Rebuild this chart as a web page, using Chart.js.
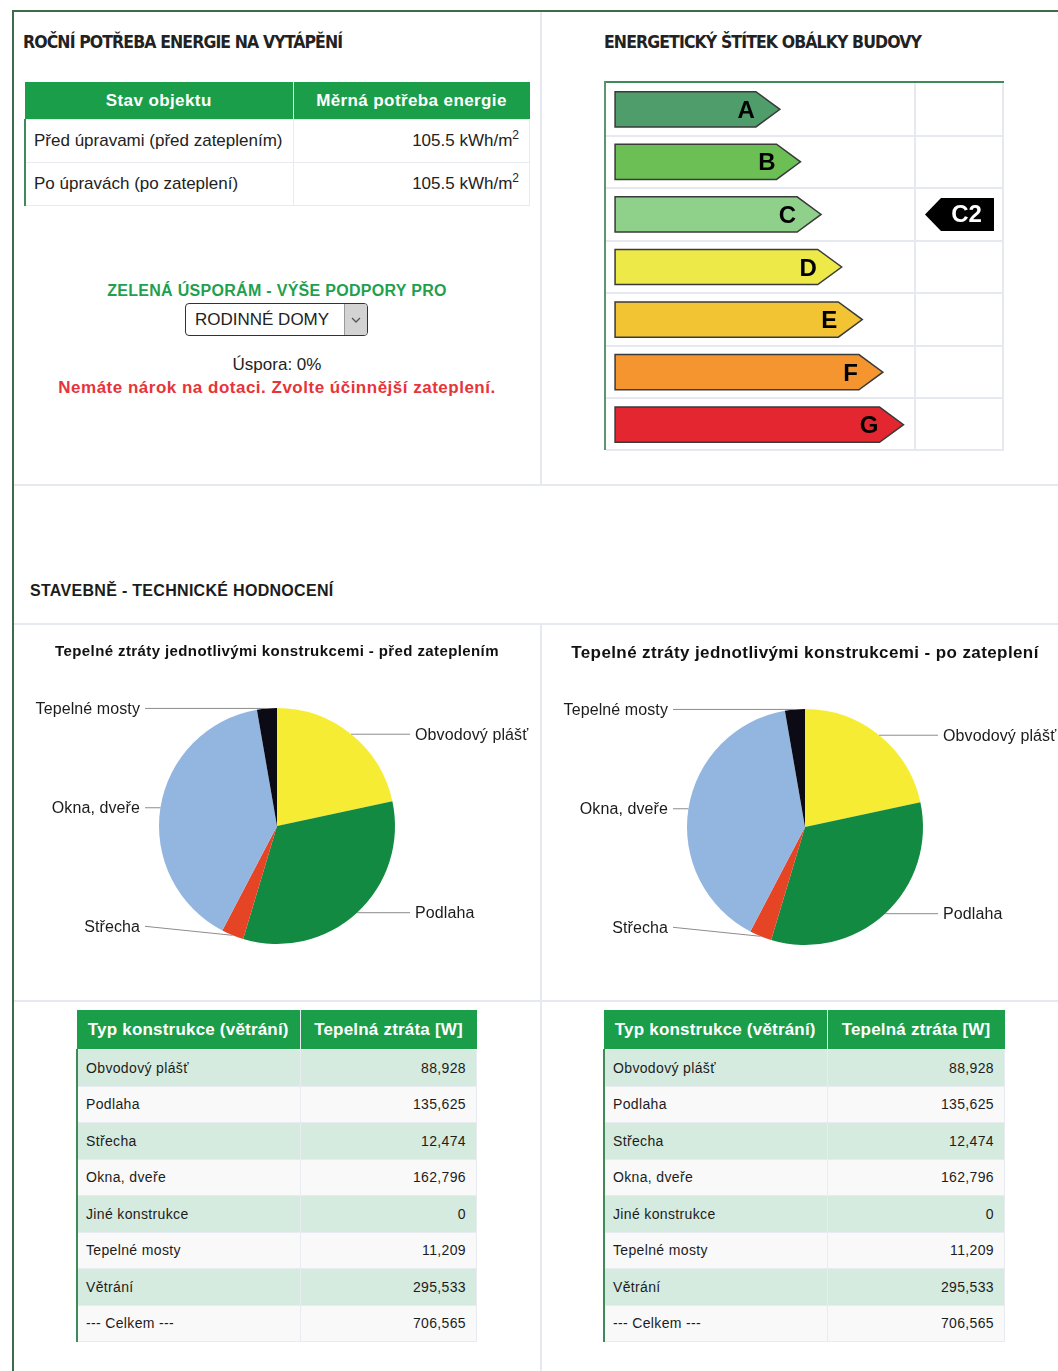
<!DOCTYPE html>
<html lang="cs">
<head>
<meta charset="utf-8">
<title>Energetické hodnocení budovy</title>
<script src="https://cdn.jsdelivr.net/npm/chart.js@4.4.1/dist/chart.umd.min.js"></script>
<style>
  html, body { margin: 0; padding: 0; background: #fff; }
  body { font-family: "Liberation Sans", Arial, sans-serif; color: #222; }
  #page { position: relative; width: 1058px; height: 1371px; overflow: hidden; }
  .abs { position: absolute; }
  .frame { background: #3c6c4a; }
  .sep { background: #e6eaf0; }
  .cond { font-family: "Liberation Sans Narrow", "DejaVu Sans Condensed", sans-serif; font-weight: bold;
          font-size: 17.5px; line-height: 1; letter-spacing: -0.9px; color: #222; white-space: nowrap; }
  .txt { line-height: 1; white-space: nowrap; }
  table.grid { border-collapse: collapse; table-layout: fixed; }
  table.grid th { background: #1a9e4a; color: #fff; font-weight: bold; font-size: 17px; text-align: center;
                  padding: 0; border-right: 1px solid #e6eaf0; }
  table.grid th:last-child { border-right: none; }
  table.grid td { border: 1px solid #e8ecf1; padding: 0 10px 0 8px; vertical-align: middle; white-space: nowrap; }
  table.grid td:first-child { border-left: 2px solid #3f8a58; }
  table.grid td.num { text-align: right; }
  #demand th { height: 37px; letter-spacing: 0.4px; }
  #demand td { height: 42px; font-size: 17px; color: #222; background: #fff; }
  #demand sup { font-size: 12px; line-height: 0; }
  table.loss th { height: 39px; letter-spacing: 0.2px; }
  table.loss td { height: 35.5px; font-size: 14px; letter-spacing: 0.35px; color: #1c1c1c; }
  table.loss tr:nth-child(odd) td { background: #d6ebdf; }
  table.loss tr:nth-child(even) td { background: #f9f9f9; }
  .select { left: 185px; top: 303px; width: 181px; height: 31px; border: 1.5px solid #333; border-radius: 4px;
            background: #fff; overflow: hidden; }
  .select .val { position: absolute; left: 9px; top: 7px; font-size: 17px; line-height: 1; color: #222; }
  .select .btn { position: absolute; right: 0; top: 0; width: 22px; height: 31px; background: #d3d3d3;
                 border-left: 1px solid #9a9a9a; }
</style>
</head>
<body>
<div id="page">
  <!-- outer frame and section separators -->
  <div class="abs frame" style="left:12px;top:10px;width:2px;height:1361px"></div>
  <div class="abs frame" style="left:12px;top:10px;width:1046px;height:2px"></div>
  <div class="abs sep" style="left:540px;top:12px;width:2px;height:472px"></div>
  <div class="abs sep" style="left:14px;top:484px;width:1044px;height:2px"></div>
  <div class="abs sep" style="left:14px;top:623px;width:1044px;height:2px"></div>
  <div class="abs sep" style="left:540px;top:623px;width:2px;height:748px"></div>
  <div class="abs sep" style="left:14px;top:1000px;width:1044px;height:2px"></div>

  <!-- annual heating demand -->
  <div class="abs cond" style="left:23px;top:34px">ROČNÍ POTŘEBA ENERGIE NA VYTÁPĚNÍ</div>
  <table id="demand" class="abs grid" style="left:24px;top:82px;width:506px">
    <colgroup><col style="width:268px"><col></colgroup>
    <thead><tr><th>Stav objektu</th><th>Měrná potřeba energie</th></tr></thead>
    <tbody id="demandBody"></tbody>
  </table>

  <div class="abs txt" style="left:14px;top:283px;width:526px;text-align:center;font-size:16px;letter-spacing:0.3px;font-weight:bold;color:#1fa04e">ZELENÁ ÚSPORÁM - VÝŠE PODPORY PRO</div>
  <div class="abs select">
    <span class="val">RODINNÉ DOMY</span>
    <span class="btn"><svg width="22" height="31" viewBox="0 0 22 31"><polyline points="7,14 11,18 15,14" fill="none" stroke="#555" stroke-width="1.3"/></svg></span>
  </div>
  <div class="abs txt" style="left:14px;top:356px;width:526px;text-align:center;font-size:17px;color:#222">Úspora: 0%</div>
  <div class="abs txt" style="left:14px;top:379px;width:526px;text-align:center;font-size:17px;letter-spacing:0.5px;font-weight:bold;color:#e8333a">Nemáte nárok na dotaci. Zvolte účinnější zateplení.</div>

  <!-- building envelope energy label -->
  <div class="abs cond" style="left:604px;top:34px">ENERGETICKÝ ŠTÍTEK OBÁLKY BUDOVY</div>
  <div class="abs" style="left:604px;top:81px;width:400px;height:2px;background:#3f8a58"></div>
  <div class="abs" style="left:604px;top:81px;width:2px;height:369px;background:#5e9470"></div>
  <canvas id="classChart" class="abs" width="398" height="368" style="left:606px;top:83px"></canvas>

  <!-- building technical evaluation -->
  <div class="abs txt" style="left:30px;top:583px;font-size:16px;font-weight:bold;color:#1c1c1c;letter-spacing:0.3px">STAVEBNĚ - TECHNICKÉ HODNOCENÍ</div>
  <canvas id="pieBefore" class="abs" width="526" height="375" style="left:14px;top:625px"></canvas>
  <canvas id="pieAfter" class="abs" width="516" height="375" style="left:542px;top:625px"></canvas>

  <table id="lossBefore" class="abs grid loss" style="left:76px;top:1010px;width:401px">
    <colgroup><col style="width:223px"><col></colgroup>
    <thead><tr><th>Typ konstrukce (větrání)</th><th>Tepelná ztráta [W]</th></tr></thead>
    <tbody></tbody>
  </table>
  <table id="lossAfter" class="abs grid loss" style="left:603px;top:1010px;width:402px">
    <colgroup><col style="width:223px"><col></colgroup>
    <thead><tr><th>Typ konstrukce (větrání)</th><th>Tepelná ztráta [W]</th></tr></thead>
    <tbody></tbody>
  </table>
</div>

<script>
// ---- data ----
const demandStates = ['Před úpravami (před zateplením)', 'Po úpravách (po zateplení)'];
const demandValues = [105.5, 105.5]; // kWh/m2 per year

const energyClasses = ['A', 'B', 'C', 'D', 'E', 'F', 'G'];
const classArrowLength = [8, 9, 10, 11, 12, 13, 14];
const classColors = ['#4f9d6b', '#6bbf55', '#8fd08b', '#ece948', '#f2c433', '#f5952f', '#e3262f'];
const buildingClass = 'C';
const buildingClassLabel = 'C2';

const constructionTypes = ['Obvodový plášť', 'Podlaha', 'Střecha', 'Okna, dveře', 'Jiné konstrukce', 'Tepelné mosty', 'Větrání'];
const lossBefore = [88928, 135625, 12474, 162796, 0, 11209, 295533];
const lossAfter = [88928, 135625, 12474, 162796, 0, 11209, 295533];
const totalLabel = '--- Celkem ---';
// structural elements shown in the pies (ventilation excluded)
const pieCount = 6;
const pieColors = ['#f5ec33', '#138a42', '#e54425', '#93b6e0', '#9e9e9e', '#0c0a14'];

// ---- tables ----
const demandBody = document.getElementById('demandBody');
demandStates.forEach((s, i) => {
  const tr = document.createElement('tr');
  tr.innerHTML = '<td>' + s + '</td><td class="num">' + demandValues[i].toFixed(1) + ' kWh/m<sup>2</sup></td>';
  demandBody.appendChild(tr);
});

const fmt = v => v.toLocaleString('en-US');
function fillLossTable(id, values) {
  const body = document.querySelector('#' + id + ' tbody');
  const total = values.reduce((a, b) => a + b, 0);
  constructionTypes.concat([totalLabel]).forEach((name, i) => {
    const v = i < values.length ? values[i] : total;
    const tr = document.createElement('tr');
    tr.innerHTML = '<td>' + name + '</td><td class="num">' + fmt(v) + '</td>';
    body.appendChild(tr);
  });
}
fillLossTable('lossBefore', lossBefore);
fillLossTable('lossAfter', lossAfter);

// ---- energy label ----
const labelGrid = {
  id: 'labelGrid',
  beforeDatasetsDraw(chart, args, opts) {
    const { ctx, width } = chart;
    const y = chart.scales.y;
    const band = y.getPixelForValue(1) - y.getPixelForValue(0);
    const n = energyClasses.length;
    const bottom = y.getPixelForValue(n - 1) + band / 2;
    ctx.save();
    ctx.strokeStyle = '#e6eaf0';
    ctx.lineWidth = 2;
    ctx.beginPath();
    for (let i = 1; i < n; i++) {
      const yy = Math.round(y.getPixelForValue(i) - band / 2);
      ctx.moveTo(0, yy); ctx.lineTo(width, yy);
    }
    ctx.moveTo(0, bottom - 1); ctx.lineTo(width, bottom - 1);
    ctx.moveTo(opts.divider, 0); ctx.lineTo(opts.divider, bottom);
    ctx.moveTo(width - 1, 0); ctx.lineTo(width - 1, bottom);
    ctx.stroke();
    ctx.restore();
  }
};

const classArrows = {
  id: 'classArrows',
  afterDatasetsDraw(chart, args, opts) {
    const { ctx, width } = chart;
    const meta = chart.getDatasetMeta(0);
    ctx.save();
    meta.data.forEach((bar, i) => {
      const { x, y, base, height } = bar.getProps(['x', 'y', 'base', 'height'], true);
      const tip = height * 0.68;
      const top = y - height / 2, bot = y + height / 2, bodyEnd = x - tip;
      ctx.beginPath();
      ctx.moveTo(base, top);
      ctx.lineTo(bodyEnd, top);
      ctx.lineTo(x, y);
      ctx.lineTo(bodyEnd, bot);
      ctx.lineTo(base, bot);
      ctx.closePath();
      ctx.fillStyle = classColors[i];
      ctx.fill();
      ctx.strokeStyle = '#3a3a3a';
      ctx.lineWidth = 1.5;
      ctx.stroke();
      ctx.fillStyle = '#000';
      ctx.font = 'bold 24px "Liberation Sans", Arial, sans-serif';
      ctx.textAlign = 'right';
      ctx.textBaseline = 'middle';
      ctx.fillText(chart.data.labels[i], bodyEnd - 1, y + 2);
    });
    // current class marker in the right column
    const idx = energyClasses.indexOf(buildingClass);
    const cy = chart.scales.y.getPixelForValue(idx);
    const cx = (opts.divider + width) / 2;
    const w = 69, h = 33, notch = 16;
    ctx.beginPath();
    ctx.moveTo(cx - w / 2, cy);
    ctx.lineTo(cx - w / 2 + notch, cy - h / 2);
    ctx.lineTo(cx + w / 2, cy - h / 2);
    ctx.lineTo(cx + w / 2, cy + h / 2);
    ctx.lineTo(cx - w / 2 + notch, cy + h / 2);
    ctx.closePath();
    ctx.fillStyle = '#000';
    ctx.fill();
    ctx.fillStyle = '#fff';
    ctx.font = 'bold 24px "Liberation Sans", Arial, sans-serif';
    ctx.textAlign = 'center';
    ctx.textBaseline = 'middle';
    ctx.fillText(buildingClassLabel, cx + 7, cy + 1);
    ctx.restore();
  }
};

new Chart(document.getElementById('classChart'), {
  type: 'bar',
  data: {
    labels: energyClasses,
    datasets: [{ data: classArrowLength, backgroundColor: 'rgba(0,0,0,0)', borderWidth: 0,
                 barPercentage: 0.67, categoryPercentage: 1 }]
  },
  options: {
    indexAxis: 'y',
    responsive: false,
    animation: false,
    events: [],
    layout: { padding: 0 },
    plugins: { legend: { display: false }, tooltip: { enabled: false },
               labelGrid: { divider: 309 }, classArrows: { divider: 309 } },
    scales: {
      x: { type: 'linear', display: false, min: -0.44, max: 18.88 },
      y: { type: 'category', display: false, offset: true }
    }
  },
  plugins: [labelGrid, classArrows]
});

// ---- heat-loss pies ----
const pieDecor = {
  id: 'pieDecor',
  afterDatasetsDraw(chart, args, opts) {
    const { ctx } = chart;
    const meta = chart.getDatasetMeta(0);
    const data = chart.data.datasets[0].data;
    ctx.save();
    // title
    const first = meta.data[0];
    ctx.fillStyle = '#111';
    ctx.letterSpacing = '0.4px';
    ctx.font = 'bold ' + opts.titleSize + 'px "Liberation Sans", Arial, sans-serif';
    ctx.textAlign = 'center';
    ctx.textBaseline = 'alphabetic';
    ctx.fillText(opts.title, first.x, opts.titleY);
    // outside labels with leader lines
    ctx.letterSpacing = '0.1px';
    ctx.font = '16px "Liberation Sans", Arial, sans-serif';
    ctx.textBaseline = 'middle';
    meta.data.forEach((arc, i) => {
      if (!data[i]) return;
      const mid = (arc.startAngle + arc.endAngle) / 2;
      const r = arc.outerRadius;
      const ax = arc.x + Math.cos(mid) * r;
      const ay = arc.y + Math.sin(mid) * r;
      const right = Math.cos(mid) >= 0;
      const ly = Math.min(ay, arc.y + r * 0.85);
      const lx = right ? arc.x + 138 : arc.x - 137;
      ctx.strokeStyle = '#8c8c8c';
      ctx.lineWidth = 1;
      ctx.beginPath();
      ctx.moveTo(ax, ay);
      ctx.lineTo(right ? lx - 5 : lx + 5, ly);
      ctx.stroke();
      ctx.fillStyle = '#1c1c1c';
      ctx.textAlign = right ? 'left' : 'right';
      ctx.fillText(chart.data.labels[i], lx, ly + 1);
    });
    ctx.restore();
  }
};

function makePie(id, values, title, titleSize, titleY, padding) {
  new Chart(document.getElementById(id), {
    type: 'pie',
    data: {
      labels: constructionTypes.slice(0, pieCount),
      datasets: [{ data: values.slice(0, pieCount), backgroundColor: pieColors, borderWidth: 0 }]
    },
    options: {
      responsive: false,
      animation: false,
      events: [],
      layout: { padding },
      plugins: { legend: { display: false }, tooltip: { enabled: false },
                 pieDecor: { title, titleSize, titleY } }
    },
    plugins: [pieDecor]
  });
}

makePie('pieBefore', lossBefore, 'Tepelné ztráty jednotlivými konstrukcemi - před zateplením', 15, 31,
        { left: 145, right: 145, top: 83, bottom: 56 });
makePie('pieAfter', lossAfter, 'Tepelné ztráty jednotlivými konstrukcemi - po zateplení', 17, 33,
        { left: 145, right: 135, top: 84, bottom: 55 });
</script>
</body>
</html>
